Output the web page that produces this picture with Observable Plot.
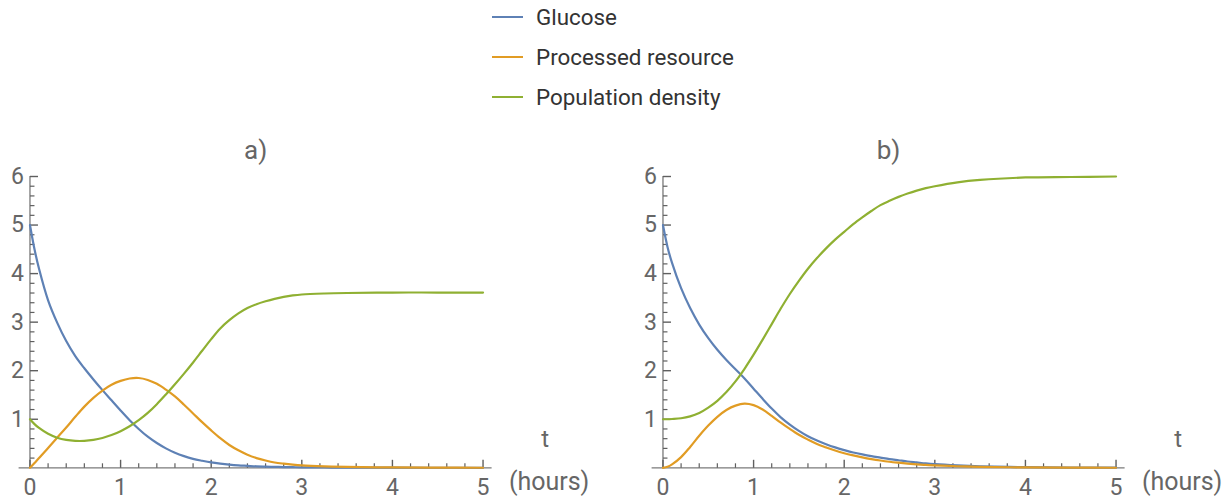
<!DOCTYPE html>
<html>
<head>
<meta charset="utf-8">
<script src="https://cdn.jsdelivr.net/npm/d3@7"></script>
<script src="https://cdn.jsdelivr.net/npm/@observablehq/plot@0.6"></script>
<style>
  html, body { margin: 0; padding: 0; background: #fff; overflow: hidden; }
  #root { position: relative; width: 1231px; height: 503px; font-family: Roboto, sans-serif; }
  .legend { position: absolute; left: 492px; top: 0; }
  .legend .row { position: absolute; left: 0; height: 24px; display: flex; align-items: center; white-space: nowrap; }
  .legend .swatch { width: 31px; height: 0; border-top: 2.2px solid; margin-right: 13px; }
  .legend span { font-size: 22.4px; color: #333; }
  .panel { position: absolute; top: 110px; }
</style>
</head>
<body>
<div id="root"></div>
<script>
// Series names and colours
const names = ["Glucose", "Processed resource", "Population density"];
const colors = ["#5E81B5", "#E19C24", "#8FB032"];

// Time grid (hours), shared by both panels
const times = [0, 0.05, 0.1, 0.2, 0.3, 0.4, 0.5, 0.6, 0.7, 0.8, 0.9, 1.0, 1.1, 1.2, 1.3, 1.4, 1.5, 1.6, 1.7, 1.8, 1.9, 2.0,
               2.1, 2.2, 2.3, 2.4, 2.5, 2.6, 2.7, 2.8, 2.9, 3.0, 3.25, 3.5, 4.0, 4.5, 5.0];

// Panel a)
const glucoseA = [5.0, 4.5, 4.1, 3.45, 2.99, 2.61, 2.30, 2.05, 1.82, 1.60, 1.39, 1.18, 0.98, 0.80, 0.64, 0.51, 0.40, 0.31, 0.24, 0.185, 0.145, 0.11,
                  0.085, 0.065, 0.05, 0.04, 0.03, 0.024, 0.019, 0.015, 0.012, 0.01, 0.006, 0.004, 0.002, 0.001, 0];
const resourceA = [0, 0.1, 0.2, 0.41, 0.62, 0.83, 1.05, 1.26, 1.44, 1.59, 1.71, 1.79, 1.84, 1.85, 1.81, 1.73, 1.61, 1.47, 1.30, 1.12, 0.94, 0.77,
                   0.61, 0.47, 0.36, 0.27, 0.20, 0.15, 0.11, 0.085, 0.065, 0.05, 0.03, 0.018, 0.007, 0.003, 0.001];
const densityA = [1.0, 0.9, 0.82, 0.70, 0.62, 0.575, 0.555, 0.555, 0.575, 0.615, 0.675, 0.755, 0.855, 0.98, 1.13, 1.31, 1.51, 1.72, 1.94, 2.17, 2.41, 2.65,
                  2.87, 3.04, 3.18, 3.29, 3.37, 3.43, 3.48, 3.52, 3.55, 3.57, 3.59, 3.60, 3.61, 3.61, 3.61];

// Panel b)
const glucoseB = [5.0, 4.55, 4.22, 3.70, 3.29, 2.95, 2.67, 2.43, 2.22, 2.03, 1.84, 1.63, 1.42, 1.22, 1.04, 0.89, 0.76, 0.65, 0.56, 0.485, 0.42, 0.365,
                  0.315, 0.275, 0.24, 0.21, 0.18, 0.155, 0.13, 0.11, 0.09, 0.075, 0.05, 0.032, 0.013, 0.005, 0.002];
const resourceB = [0, 0.02, 0.07, 0.22, 0.43, 0.66, 0.87, 1.05, 1.19, 1.28, 1.32, 1.29, 1.20, 1.07, 0.93, 0.80, 0.68, 0.58, 0.49, 0.42, 0.355, 0.30,
                   0.255, 0.215, 0.18, 0.15, 0.125, 0.105, 0.087, 0.072, 0.06, 0.05, 0.032, 0.02, 0.008, 0.003, 0.001];
const densityB = [1.0, 1.0, 1.005, 1.02, 1.06, 1.13, 1.24, 1.38, 1.56, 1.78, 2.04, 2.33, 2.64, 2.96, 3.28, 3.58, 3.85, 4.10, 4.32, 4.52, 4.70, 4.86,
                  5.02, 5.16, 5.29, 5.41, 5.50, 5.58, 5.65, 5.71, 5.76, 5.80, 5.88, 5.93, 5.98, 5.99, 6.0];

// Axis ticks
const majorX = [0, 1, 2, 3, 4, 5];
const minorX = d3.range(1, 26).map(i => i / 5).filter(v => !Number.isInteger(v));
const majorY = [1, 2, 3, 4, 5, 6];
const minorY = d3.range(1, 30).map(i => i / 5).filter(v => !Number.isInteger(v));

const axisColor = "#5f5f5f";
const labelColor = "#666";

function tidy(cols) {
  return names.flatMap((name, k) => times.map((t, i) => ({series: name, t, v: cols[k][i]})));
}

function panel(title, rows) {
  const W = 598, H = 393;
  const mL = 18.6, mR = W - 491.6, mT = 66, mB = 35.7;
  const xDomain = [-0.12, 5.1], yDomain = [0, 6];
  // data units per pixel, so tick lengths can be given in pixels
  const xPerPx = (xDomain[1] - xDomain[0]) / (W - mL - mR);
  const yPerPx = (yDomain[1] - yDomain[0]) / (H - mT - mB);
  const major = 8, minor = 4.5;
  const tickStyle = {stroke: axisColor, strokeWidth: 1.4};
  return Plot.plot({
    width: W,
    height: H,
    marginLeft: mL,
    marginRight: mR,
    marginTop: mT,
    marginBottom: mB,
    style: {fontFamily: "Roboto, sans-serif", background: "white", overflow: "visible"},
    x: {domain: xDomain, axis: null},
    y: {domain: yDomain, axis: null},
    color: {domain: names, range: colors},
    marks: [
      // axis lines
      Plot.ruleY([0], {stroke: "#7a7a7a", strokeWidth: 1.3}),
      Plot.ruleX([0], {y1: 0, y2: 6, stroke: "#7a7a7a", strokeWidth: 1.3}),
      // inward ticks on x
      Plot.link(majorX, {x1: d => d, x2: d => d, y1: () => 0, y2: () => major * yPerPx, ...tickStyle}),
      Plot.link(minorX, {x1: d => d, x2: d => d, y1: () => 0, y2: () => minor * yPerPx, ...tickStyle, strokeWidth: 1.2}),
      // inward ticks on y
      Plot.link(majorY, {y1: d => d, y2: d => d, x1: () => 0, x2: () => major * xPerPx, ...tickStyle}),
      Plot.link(minorY, {y1: d => d, y2: d => d, x1: () => 0, x2: () => minor * xPerPx, ...tickStyle, strokeWidth: 1.2}),
      // tick labels
      Plot.text(majorX, {x: d => d, y: 0, dy: 20, text: d => String(d), fontSize: 23, fill: labelColor}),
      Plot.text(majorY, {x: 0, y: d => d, dx: -6, text: d => String(d), textAnchor: "end", fontSize: 23, fill: labelColor}),
      // curves
      Plot.line(rows, {x: "t", y: "v", z: "series", stroke: "series", strokeWidth: 2.2, curve: "catmull-rom"}),
      // panel title and axis label
      Plot.text([title], {frameAnchor: "top", dy: -36, fontSize: 26, fill: labelColor}),
      Plot.text(["t"], {frameAnchor: "bottom-right", textAnchor: "middle", dx: 53, dy: -21, fontSize: 24, fill: labelColor}),
      Plot.text(["(hours)"], {frameAnchor: "bottom-right", textAnchor: "middle", dx: 57, dy: 22, fontSize: 25, fill: labelColor})
    ]
  });
}

const root = document.getElementById("root");

// legend
const legend = document.createElement("div");
legend.className = "legend";
[17, 57, 97].forEach((cy, i) => {
  const row = document.createElement("div");
  row.className = "row";
  row.style.top = (cy - 12) + "px";
  const sw = document.createElement("div");
  sw.className = "swatch";
  sw.style.borderTopColor = colors[i];
  const label = document.createElement("span");
  label.textContent = names[i];
  row.appendChild(sw);
  row.appendChild(label);
  legend.appendChild(row);
});
root.appendChild(legend);

const left = panel("a)", tidy([glucoseA, resourceA, densityA]));
left.classList.add("panel");
left.style.left = "0px";
root.appendChild(left);

const right = panel("b)", tidy([glucoseB, resourceB, densityB]));
right.classList.add("panel");
right.style.left = "633px";
root.appendChild(right);
</script>
</body>
</html>
